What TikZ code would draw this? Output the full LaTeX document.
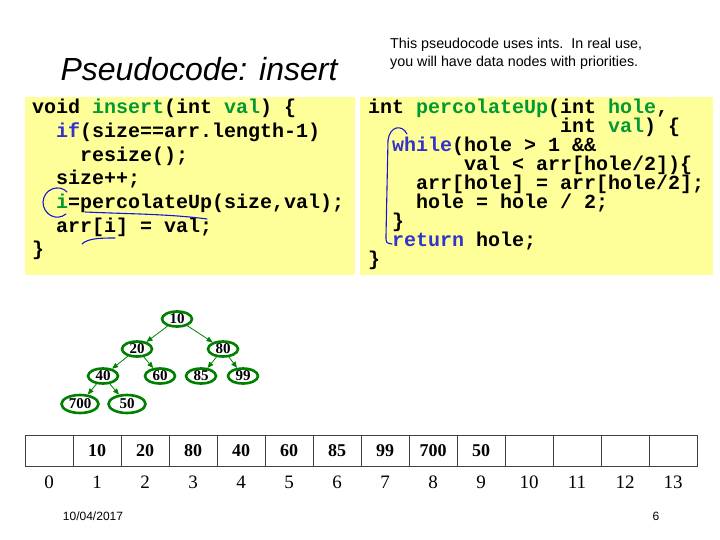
\documentclass[tikz,border=0pt]{standalone}
\usepackage{fontspec}
\setmainfont{Liberation Serif}
\setsansfont{Liberation Sans}
\setmonofont{Liberation Mono}
\usepackage{tikz}
\usetikzlibrary{shapes.geometric}
\usetikzlibrary{arrows.meta}

\definecolor{codeyellow}{RGB}{255,255,153}
\definecolor{codegreen}{RGB}{0,153,51}
\definecolor{codeblue}{RGB}{51,51,204}
\definecolor{heapgreen}{RGB}{0,128,0}
\definecolor{inkblue}{RGB}{20,20,220}

\begin{document}
\begin{tikzpicture}[
    x=1pt, y=-1pt,
    code box/.style={rectangle, fill=codeyellow, anchor=north west, inner sep=0pt},
    code/.style={anchor=north west, align=left, inner sep=0pt, font=\ttfamily\bfseries\fontsize{20}{23.7}\selectfont},
    heap node/.style={ellipse, draw=heapgreen, line width=2.6pt, fill=white, minimum width=30pt, minimum height=15pt, inner sep=0pt, font=\bfseries\fontsize{15}{15}\selectfont},
    big node/.style={heap node, minimum width=37pt, minimum height=18pt},
    heap edge/.style={heapgreen, line width=0.8pt, -{Triangle[length=6pt,width=5pt]}},
    cell/.style={rectangle, draw=black!75, line width=0.8pt, minimum width=48pt, minimum height=31pt, inner sep=0pt, font=\bfseries\fontsize{18}{18}\selectfont},
    idx/.style={font=\fontsize{19}{19}\selectfont, inner sep=0pt},
    ink/.style={inkblue, line width=1.1pt, line cap=round},
    ]
  \useasboundingbox (0,0) rectangle (720,540);

  % heading
  \node[font=\sffamily\itshape\fontsize{32}{32}\selectfont] (title) at (199,69) {Pseudocode: insert};
  \node[anchor=north west, align=left, inner sep=0pt, font=\sffamily\fontsize{14.3}{18}\selectfont] (note) at (390,38)
    {This pseudocode uses ints.\ \ In real use,\\you will have data nodes with priorities.};

  % code
  \node[code box, minimum width=330pt, minimum height=178pt] (leftbox) at (25,97) {};
  \node[code box, minimum width=353pt, minimum height=178pt] (rightbox) at (360,97) {};

  \node[code] (insert) at (32,99) {void \textcolor{codegreen}{insert}(int \textcolor{codegreen}{val}) \{\\
    \hspace*{1.2em}\textcolor{codeblue}{if}(size==arr.length-1)\\
    \hspace*{2.4em}resize();\\
    \hspace*{1.2em}size++;\\
    \hspace*{1.2em}\textcolor{codegreen}{i}=percolateUp(size,val);\\
    \hspace*{1.2em}arr[i] = val;\\
    \}};

  \node[code, font=\ttfamily\bfseries\fontsize{20}{19}\selectfont] (percolate) at (368,99) {int \textcolor{codegreen}{percolateUp}(int \textcolor{codegreen}{hole},\\
    \hspace*{9.6em}int \textcolor{codegreen}{val}) \{\\
    \hspace*{1.2em}\textcolor{codeblue}{while}(hole > 1 \&\&\\
    \hspace*{4.8em}val < arr[hole/2])\{\\
    \hspace*{2.4em}arr[hole] = arr[hole/2];\\
    \hspace*{2.4em}hole = hole / 2;\\
    \hspace*{1.2em}\}\\
    \hspace*{1.2em}\textcolor{codeblue}{return} hole;\\
    \}};

  % pen marks
  \draw[ink] (67,192) .. controls (60,184) and (44,188) .. (43,202) .. controls (43,214) and (56,222) .. (66,214);
  \draw[ink] (85,212) .. controls (130,214) and (170,214) .. (207,219);
  \draw[ink] (82,244) .. controls (88,238) and (102,238) .. (115,238);
  \draw[ink] (407,134) .. controls (402,124) and (390,126) .. (388,140) -- (386,236) .. controls (386,243) .. (392,244);

  % heap
  \node[heap node] (10) at (177,319) {10};
  \node[heap node] (20) at (137,349) {20};
  \node[heap node] (80) at (223,349) {80};
  \node[heap node] (40) at (103,376) {40};
  \node[heap node] (60) at (160,376) {60};
  \node[heap node] (85) at (201,376) {85};
  \node[heap node] (99) at (243,376) {99};
  \node[big node] (700) at (80,404) {700};
  \node[big node] (50) at (127,404) {50};

  \draw[heap edge] (10) -- (20);
  \draw[heap edge] (10) -- (80);
  \draw[heap edge] (20) -- (40);
  \draw[heap edge] (20) -- (60);
  \draw[heap edge] (80) -- (85);
  \draw[heap edge] (80) -- (99);
  \draw[heap edge] (40) -- (700);
  \draw[heap edge] (40) -- (50);

  % array
  \node[cell] (a0) at (49,450.5) {};
  \node[cell] (a1) at (97,450.5) {10};
  \node[cell] (a2) at (145,450.5) {20};
  \node[cell] (a3) at (193,450.5) {80};
  \node[cell] (a4) at (241,450.5) {40};
  \node[cell] (a5) at (289,450.5) {60};
  \node[cell] (a6) at (337,450.5) {85};
  \node[cell] (a7) at (385,450.5) {99};
  \node[cell] (a8) at (433,450.5) {700};
  \node[cell] (a9) at (481,450.5) {50};
  \node[cell] (a10) at (529,450.5) {};
  \node[cell] (a11) at (577,450.5) {};
  \node[cell] (a12) at (625,450.5) {};
  \node[cell] (a13) at (673,450.5) {};

  \path (a0) ++(0,32) node[idx] (i0) {0};
  \path (a1) ++(0,32) node[idx] (i1) {1};
  \path (a2) ++(0,32) node[idx] (i2) {2};
  \path (a3) ++(0,32) node[idx] (i3) {3};
  \path (a4) ++(0,32) node[idx] (i4) {4};
  \path (a5) ++(0,32) node[idx] (i5) {5};
  \path (a6) ++(0,32) node[idx] (i6) {6};
  \path (a7) ++(0,32) node[idx] (i7) {7};
  \path (a8) ++(0,32) node[idx] (i8) {8};
  \path (a9) ++(0,32) node[idx] (i9) {9};
  \path (a10) ++(0,32) node[idx] (i10) {10};
  \path (a11) ++(0,32) node[idx] (i11) {11};
  \path (a12) ++(0,32) node[idx] (i12) {12};
  \path (a13) ++(0,32) node[idx] (i13) {13};

  % footer
  \node[font=\sffamily\fontsize{12}{12}\selectfont, inner sep=0pt] (date) at (93,516) {10/04/2017};
  \node[font=\sffamily\fontsize{12}{12}\selectfont, inner sep=0pt] (page) at (656,516) {6};
\end{tikzpicture}
\end{document}
